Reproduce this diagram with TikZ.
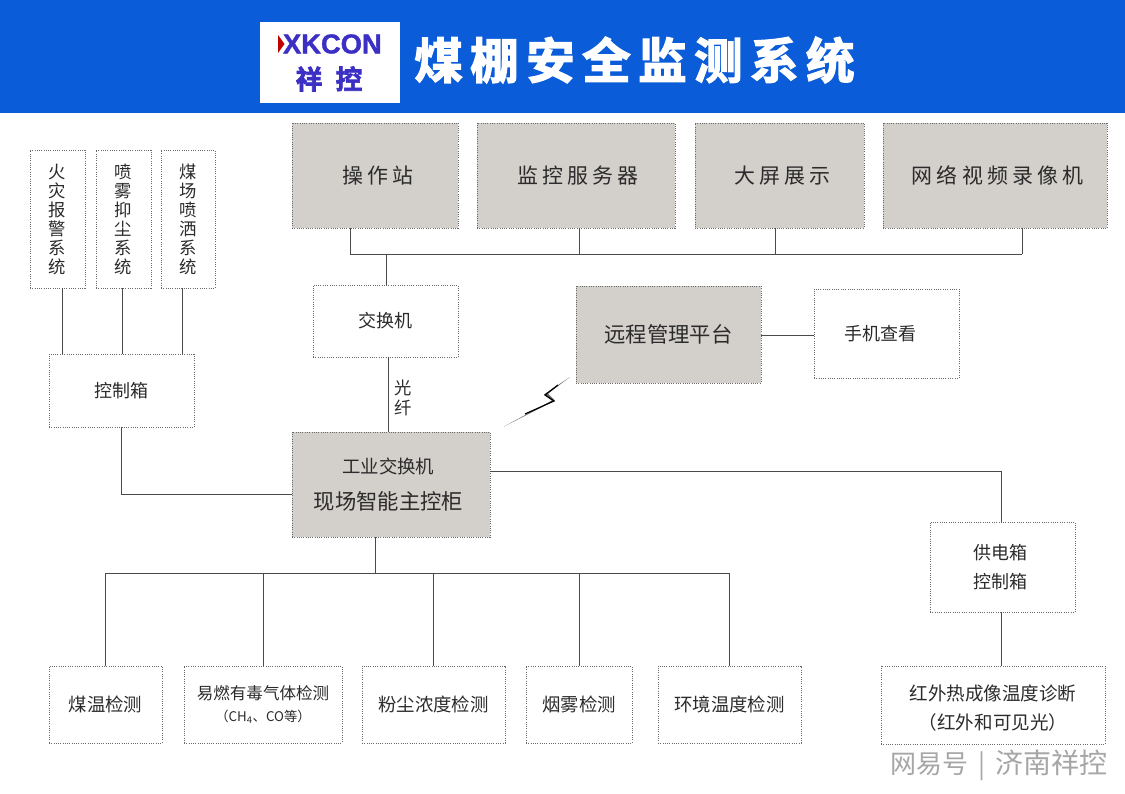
\documentclass[tikz,border=0pt]{standalone}
\usepackage{fontspec}
\setmainfont{Noto Sans CJK SC}
\newfontfamily\titlefont[FakeBold=2.6]{Noto Sans CJK SC Bold}
\newfontfamily\logofont[FakeBold=1.2]{Liberation Sans Bold}
\definecolor{headblue}{HTML}{0A5CD8}
\definecolor{boxgray}{HTML}{D3CFCB}
\definecolor{logoblue}{HTML}{3B2FC4}
\definecolor{inkc}{HTML}{2B2B2B}
\definecolor{edgec}{HTML}{6A6A6A}
\definecolor{linec}{HTML}{4A4A4A}
\newcommand{\sized}[2]{\fontsize{#1}{#2}\selectfont}
\tikzset{
  basebox/.style={draw=edgec,line width=0.7pt,densely dotted,inner sep=0pt,text=inkc,align=center},
  whitebox/.style={basebox,fill=white},
  graybox/.style={basebox,fill=boxgray},
  wire/.style={draw=linec,line width=0.65pt},
  plain/.style={inner sep=0pt,text=inkc,align=center},
  fbig/.style={font=\sized{15.7}{18}\addfontfeature{LetterSpace=20}},
  fmid/.style={font=\sized{13.8}{16}},
  fsmall/.style={font=\sized{13.5}{16}},
  fvert/.style={font=\sized{13}{14.25}}
}
\newcommand{\bx}[7]{% style, name, x1,y1,x2,y2, text
  \node[#1,minimum width={(#5-#3)*0.75pt},minimum height={(#6-#4)*0.75pt}] (#2) at ({(#3+#5)/2},{(#4+#6)/2}) {#7};}
\begin{document}
\begin{tikzpicture}[x=0.75pt,y=-0.75pt]
\useasboundingbox (0,0) rectangle (1125,793);
\fill[white] (0,0) rectangle (1125,793);
\fill[headblue] (0,0) rectangle (1125,113);
% logo
\node[fill=white,minimum width=105pt,minimum height=60.75pt,inner sep=0pt] (logo) at (330,62.5) {};
\node[inner sep=0pt,text=logoblue,anchor=east] (logoa) at (382,44) {\logofont\sized{20.5}{20}XKCON};
\fill[red!75!black] (278,35) -- (284.5,44) -- (278,53) -- cycle;
\node[inner sep=0pt,text=logoblue] (logob) at (329,79) {\titlefont\sized{20}{20}\addfontfeature{LetterSpace=50}祥控};
\node[inner sep=0pt,text=white,anchor=west] (title) at (414,60) {\titlefont\sized{36.5}{40}\addfontfeature{LetterSpace=15}煤棚安全监测系统};
% top boxes
\bx{graybox,fbig}{op}{292}{123}{458}{228}{\hspace*{5pt}操作站}
\bx{graybox,fbig}{srv}{477}{123}{675}{228}{\hspace*{3pt}监控服务器}
\bx{graybox,fbig}{scr}{695}{123}{864}{228}{\hspace*{4pt}大屏展示}
\bx{graybox,fbig}{nvr}{883}{123}{1107}{228}{\hspace*{4pt}网络视频录像机}
% left vertical boxes
\bx{whitebox,fvert}{fire}{30}{150}{85}{288}{火\\灾\\报\\警\\系\\统}
\bx{whitebox,fvert}{fog}{96}{150}{151}{288}{喷\\雾\\抑\\尘\\系\\统}
\bx{whitebox,fvert}{spray}{161}{150}{215}{288}{煤\\场\\喷\\洒\\系\\统}
% middle boxes
\bx{whitebox,fsmall}{sw}{313}{285}{458}{357}{交换机}
\bx{graybox,font=\sized{16}{18}}{rem}{576}{286}{761}{383}{远程管理平台}
\bx{whitebox,fsmall}{phone}{814}{289}{959}{378}{\hspace*{-9pt}手机查看}
\bx{whitebox,fsmall}{ctrl}{49}{354}{194}{427}{控制箱}
\bx{graybox}{main}{292}{432}{490}{537}{\sized{13.8}{16}\hspace*{-4pt}工业交换机\\[11pt]\sized{16}{18}\hspace*{-4pt}现场智能主控柜}
\bx{whitebox,font=\sized{13.5}{22}}{pwr}{930}{522}{1075}{612}{\hspace*{-3pt}供电箱\\\hspace*{-3pt}控制箱}
% bottom boxes
\bx{whitebox,fmid}{coal}{49}{666}{162}{743}{煤温检测}
\bx{whitebox}{gas}{184}{666}{342}{743}{\sized{12.4}{15}易燃有毒气体检测\\[4.5pt]\sized{10}{12}（CH\textsubscript{4}、CO等）}
\bx{whitebox,fmid}{dust}{362}{666}{505}{743}{粉尘浓度检测}
\bx{whitebox,fmid}{smoke}{526}{666}{632}{743}{烟雾检测}
\bx{whitebox,fmid}{env}{658}{666}{801}{743}{环境温度检测}
\bx{whitebox,font=\sized{13.9}{21.5}}{ir}{881}{666}{1105}{744}{\rule{0pt}{16.7pt}红外热成像温度诊断\\（红外和可见光）}
% junctions
\coordinate (t1) at (350,254);
\coordinate (t2) at (579,254);
\coordinate (t3) at (775,254);
\coordinate (t4) at (1022,254);
\coordinate (t5) at (386,254);
\coordinate (l1) at (62,354);
\coordinate (l2) at (122,354);
\coordinate (l3) at (182,354);
\coordinate (fib) at (388,400);
\coordinate (elbowa) at (121,494);
\coordinate (elbowb) at (1001,471);
\coordinate (mainr) at (490,471);
\coordinate (mids) at (375,573);
\coordinate (b0) at (105,573);
\coordinate (b1) at (263,573);
\coordinate (b2) at (433,573);
\coordinate (b3) at (579,573);
\coordinate (b4) at (729,573);
\coordinate (pwrx) at (1001,612);
\coordinate (rr) at (761,335);
% connectors
\draw[wire] (t1) -- (t4);
\draw[wire] (op.south -| t1) -- (t1);
\draw[wire] (srv.south -| t2) -- (t2);
\draw[wire] (scr.south -| t3) -- (t3);
\draw[wire] (nvr.south -| t4) -- (t4);
\draw[wire] (t5) -- (sw.north -| t5);
\draw[wire] (fire.south -| l1) -- (ctrl.north -| l1);
\draw[wire] (fog.south -| l2) -- (ctrl.north -| l2);
\draw[wire] (spray.south -| l3) -- (ctrl.north -| l3);
\draw[wire] (sw.south -| fib) -- (main.north -| fib);
\draw[wire] (ctrl.south -| elbowa) -- (elbowa) -- (main.west |- elbowa);
\draw[wire] (main.east |- mainr) -- (elbowb) -- (pwr.north -| elbowb);
\draw[wire] (main.south -| mids) -- (mids);
\draw[wire] (b0) -- (b4);
\draw[wire] (b0) -- (coal.north -| b0);
\draw[wire] (b1) -- (gas.north -| b1);
\draw[wire] (b2) -- (dust.north -| b2);
\draw[wire] (b3) -- (smoke.north -| b3);
\draw[wire] (b4) -- (env.north -| b4);
\draw[wire] (pwr.south -| pwrx) -- (ir.north -| pwrx);
\draw[wire] (rem.east |- rr) -- (phone.west |- rr);
% fibre label
\node[plain,font=\sized{13}{15}] (fiblab) at (403,398) {光\\纤};
% lightning
\fill[black!60] (504,426.5) -- (552,400.5) -- (544,394.5) -- (570,377) -- (548,393.5) -- (555,400.5) -- cycle;
\draw[black,line width=0.9pt,line join=miter] (525,414) -- (554,401) -- (545,395) -- (558,385);
% watermark
\node[inner sep=0pt,text=black!35,anchor=east] (wm) at (1108,765) {\sized{19.5}{20}网易号\hspace{7pt}\textbar\hspace{8pt}\sized{21}{22}济南祥控};
\end{tikzpicture}
\end{document}
